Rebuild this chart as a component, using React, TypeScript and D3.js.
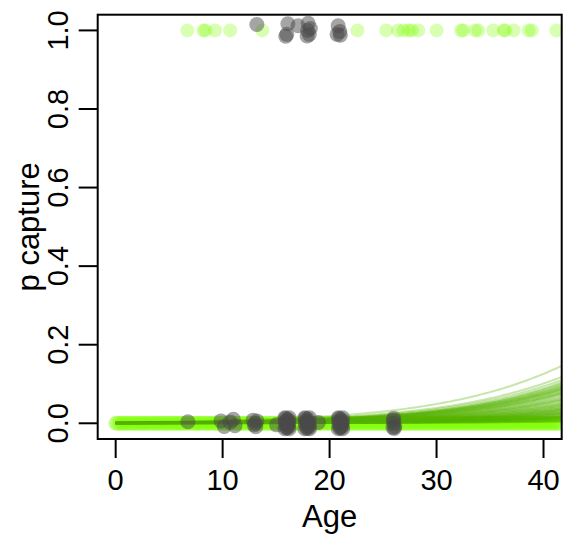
import React from 'react';
import * as d3 from 'd3';

const W = 563;
const H = 538;

const xTicks = [0, 10, 20, 30, 40];
const yTicks = [0, 0.2, 0.4, 0.6, 0.8, 1.0];
const yTickLabels = ['0.0', '0.2', '0.4', '0.6', '0.8', '1.0'];
const xTitle = 'Age';
const yTitle = 'p capture';

// green points captured (p = 1)
const greenOneAges = [6.7, 8.2, 8.4, 9.3, 10.7, 13.7, 22.6, 25.3, 26.4, 26.9, 27.4, 27.7, 28.3, 30.0, 32.3, 32.5, 33.6, 33.9, 35.3, 36.3, 36.4, 37.2, 38.6, 38.9, 41.2];

// green points not captured (p = 0)
const greenZeroAges = [
  0.0, 0.1, 0.3, 0.5, 0.6, 0.8, 1.0, 1.1, 1.3, 1.5, 1.7, 1.8, 2.0, 2.2, 2.4, 2.5, 2.7, 2.9, 3.0, 3.2, 3.4, 3.6, 3.7, 3.9,
  4.1, 4.2, 4.4, 4.6, 4.8, 4.9, 5.1, 5.3, 5.5, 5.6, 5.8, 6.0, 6.1, 6.3, 6.5, 6.7, 6.8, 7.0, 7.2, 7.4, 7.5, 7.7, 7.9, 8.0,
  8.2, 8.4, 8.6, 8.7, 8.9, 9.1, 9.3, 9.4, 9.6, 9.8, 9.9, 10.1, 10.3, 10.5, 10.6, 10.8, 11.0, 11.2, 11.3, 11.5, 11.7, 11.8,
  12.0, 12.2, 12.4, 12.5, 12.7, 12.9, 13.1, 13.2, 13.4, 13.6, 13.7, 13.9, 14.1, 14.3, 14.4, 14.6, 14.8, 15.0, 15.1, 15.3,
  15.5, 15.6, 15.8, 16.0, 16.2, 16.3, 16.5, 16.7, 16.9, 17.0, 17.2, 17.4, 17.5, 17.7, 17.9, 18.1, 18.2, 18.4, 18.6, 18.8,
  18.9, 19.1, 19.3, 19.4, 19.6, 19.8, 20.0, 20.1, 20.3, 20.5, 20.7, 20.8, 21.0, 21.2, 21.3, 21.5, 21.7, 21.9, 22.0, 22.2,
  22.4, 22.6, 22.7, 22.9, 23.1, 23.2, 23.4, 23.6, 23.8, 23.9, 24.1, 24.3, 24.5, 24.6, 24.8, 25.0, 25.1, 25.3, 25.5, 25.7,
  25.8, 26.0, 26.2, 26.4, 26.5, 26.7, 26.9, 27.0, 27.2, 27.4, 27.6, 27.7, 27.9, 28.1, 28.3, 28.4, 28.6, 28.8, 28.9, 29.1,
  29.3, 29.5, 29.6, 29.8, 30.0, 30.2, 30.3, 30.5, 30.7, 30.8, 31.0, 31.2, 31.4, 31.5, 31.7, 31.9, 32.1, 32.2, 32.4, 32.6,
  32.7, 32.9, 33.1, 33.3, 33.4, 33.6, 33.8, 34.0, 34.1, 34.3, 34.5, 34.6, 34.8, 35.0, 35.2, 35.3, 35.5, 35.7, 35.9, 36.0,
  36.2, 36.4, 36.5, 36.7, 36.9, 37.1, 37.2, 37.4, 37.6, 37.8, 37.9, 38.1, 38.3, 38.4, 38.6, 38.8, 39.0, 39.1, 39.3, 39.5,
  39.7, 39.8, 40.0, 40.2, 40.3, 40.5, 40.7, 40.9, 41.0, 41.2, 41.4, 41.6,
];

// gray points (jittered age, jittered outcome)
const grayAges = [
  13.2, 16.1, 15.9, 16.0, 17.05, 18.0, 18.2, 17.9, 18.1, 17.95, 20.8, 20.95, 20.7, 21.0,
  6.75,
  9.85, 10.15, 10.7, 11.15, 11.0,
  12.85, 13.1, 13.2, 12.95, 13.05,
  15.05,
  15.82, 16.22, 15.82, 16.22, 16.0, 15.9, 16.1, 16.05, 15.95, 16.15, 15.85, 16.2, 16.02, 15.88, 16.18, 16.08,
  17.68, 18.12, 17.68, 18.12, 17.9, 17.8, 18.0, 17.95, 17.85, 18.05, 17.72, 18.08, 17.9, 17.75, 18.1, 17.98,
  18.95,
  20.82, 21.22, 20.82, 21.22, 21.0, 20.9, 21.1, 21.05, 20.95, 21.15, 20.85, 21.2, 21.02, 20.88, 21.18, 21.08,
  26.0, 26.05, 25.95, 26.1, 26.0, 25.92,
];
const grayY = [
  1.015, 1.017, 0.985, 0.99, 1.012, 1.018, 1.005, 0.986, 0.99, 1.0, 1.012, 0.997, 0.99, 0.988,
  0.004,
  0.006, -0.008, 0.003, -0.006, 0.01,
  0.008, -0.009, 0.006, -0.004, 0.0,
  -0.004,
  0.014, 0.014, -0.014, -0.014, 0.0, 0.005, -0.005, 0.01, -0.01, 0.0, 0.0, 0.007, -0.012, 0.012, -0.008, 0.003,
  0.014, 0.014, -0.014, -0.014, 0.0, 0.006, -0.006, 0.011, -0.01, 0.002, 0.0, -0.003, -0.013, 0.012, -0.009, 0.004,
  0.002,
  0.014, 0.014, -0.014, -0.014, 0.0, 0.005, -0.005, 0.01, -0.01, 0.0, 0.0, 0.004, -0.012, 0.012, -0.008, 0.003,
  0.013, -0.013, 0.008, -0.008, 0.0, -0.011,
];

// posterior curves: probability at age 25 and at age 41.6
const curveP25 = [
  0.030, 0.024, 0.022, 0.020, 0.019, 0.018, 0.017, 0.016, 0.015, 0.014, 0.013, 0.012, 0.011, 0.010, 0.010,
  0.009, 0.008, 0.008, 0.007, 0.007, 0.006, 0.006, 0.006, 0.005, 0.005, 0.005, 0.004, 0.004, 0.004, 0.003,
  0.003, 0.003, 0.003, 0.002, 0.002, 0.002, 0.002, 0.001, 0.001, 0.001,
  0.019, 0.018, 0.017, 0.016, 0.015, 0.014, 0.013, 0.012, 0.011, 0.010, 0.009, 0.008, 0.007, 0.006, 0.005,
  0.005, 0.004, 0.003, 0.003, 0.002,
];
const curveP42 = [
  0.145, 0.117, 0.109, 0.103, 0.097, 0.092, 0.088, 0.085, 0.080, 0.076, 0.072, 0.065, 0.060, 0.056, 0.052,
  0.048, 0.044, 0.042, 0.040, 0.037, 0.035, 0.033, 0.031, 0.029, 0.027, 0.025, 0.023, 0.022, 0.020, 0.018,
  0.017, 0.015, 0.013, 0.012, 0.011, 0.010, 0.008, 0.007, 0.005, 0.004,
  0.100, 0.094, 0.090, 0.086, 0.083, 0.078, 0.074, 0.068, 0.062, 0.058, 0.050, 0.046, 0.038, 0.034, 0.030,
  0.026, 0.024, 0.019, 0.016, 0.014,
];

const logit = (p: number) => Math.log(p / (1 - p));

export default function App() {
  const x = d3.scaleLinear().domain([-1.68, 41.7]).range([97.7, 561.7]);
  const y = d3.scaleLinear().domain([-0.04, 1.04]).range([439, 14.7]);
  const [x0, x1] = x.range();
  const [yb, yt] = y.range();

  const ages = d3.range(0, 41.9, 0.2);
  const line = d3
    .line<[number, number]>()
    .x((d) => x(d[0]))
    .y((d) => y(d[1]));

  const curves = curveP25.map((p25, i) => {
    const p42 = curveP42[i];
    const b = (logit(p42) - logit(p25)) / (41.6 - 25);
    const a = logit(p25) - 25 * b;
    return line(ages.map((t) => [t, 1 / (1 + Math.exp(-(a + b * t)))] as [number, number]));
  });

  const font = "'Liberation Sans', Arial, sans-serif";

  return (
    <svg width={W} height={H} style={{ position: 'absolute', left: 0, top: 0, background: '#fff' }}>
      <defs>
        <clipPath id="plotclip">
          <rect x={x0} y={yt} width={x1 - x0} height={yb - yt} />
        </clipPath>
        <filter id="soft" x="-20%" y="-20%" width="140%" height="140%">
          <feGaussianBlur stdDeviation="0.7" />
        </filter>
      </defs>
      <g clipPath="url(#plotclip)">
        {greenOneAges.map((a, i) => (
          <circle key={'g1' + i} cx={x(a)} cy={y(1)} r={7} fill="#7FFF00" fillOpacity={0.3} />
        ))}
        {greenZeroAges.map((a, i) => (
          <circle key={'g0' + i} cx={x(a)} cy={y(0)} r={7.5} fill="#7FFF00" fillOpacity={0.3} />
        ))}
        {curves.map((d, i) => (
          <path key={'c' + i} d={d || ''} fill="none" stroke="#55B400" strokeOpacity={0.33} strokeWidth={2} />
        ))}
        <g filter="url(#soft)">
          {grayAges.map((a, i) => (
            <circle key={'gr' + i} cx={x(a)} cy={y(grayY[i])} r={7.5} fill="#4a4a4a" fillOpacity={0.5} />
          ))}
        </g>
      </g>
      <rect x={x0} y={yt} width={x1 - x0} height={yb - yt} fill="none" stroke="#000" strokeWidth={2} />
      {xTicks.map((t) => (
        <g key={'xt' + t}>
          <line x1={x(t)} x2={x(t)} y1={yb} y2={yb + 19} stroke="#000" strokeWidth={2} />
          <text x={x(t)} y={490} textAnchor="middle" fontFamily={font} fontSize={29} fill="#000">
            {t}
          </text>
        </g>
      ))}
      {yTicks.map((t, i) => (
        <g key={'yt' + t}>
          <line x1={x0} x2={x0 - 19} y1={y(t)} y2={y(t)} stroke="#000" strokeWidth={2} />
          <text
            transform={`translate(68,${y(t)}) rotate(-90)`}
            textAnchor="middle"
            fontFamily={font}
            fontSize={29}
            fill="#000"
          >
            {yTickLabels[i]}
          </text>
        </g>
      ))}
      <text x={(x0 + x1) / 2} y={527} textAnchor="middle" fontFamily={font} fontSize={31} fill="#000">
        {xTitle}
      </text>
      <text
        transform={`translate(39,${(yt + yb) / 2}) rotate(-90)`}
        textAnchor="middle"
        fontFamily={font}
        fontSize={31}
        fill="#000"
      >
        {yTitle}
      </text>
    </svg>
  );
}
